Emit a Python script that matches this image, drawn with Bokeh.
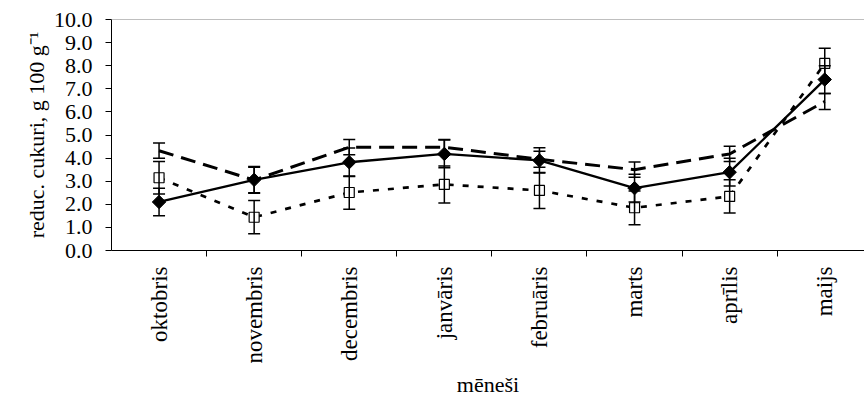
import math
from bokeh.plotting import figure
from bokeh.models import (ColumnDataSource, Whisker, TeeHead, FixedTicker, Span,
                          Range1d, NumeralTickFormatter)
from bokeh.embed import file_html
from bokeh.resources import INLINE

# ---------------- data ----------------
months = ["oktobris", "novembris", "decembris", "janvāris",
          "februāris", "marts", "aprīlis", "maijs"]

solid_vals = [2.10, 3.06, 3.82, 4.18, 3.90, 2.70, 3.39, 7.40]
solid_err = [0.60, 0.58, 0.62, 0.60, 0.55, 0.60, 0.60, 0.60]

dash_vals = [4.32, 3.05, 4.47, 4.47, 3.95, 3.50, 4.18, 6.45]
dash_err = [0.33, 0.55, 0.33, 0.33, 0.35, 0.33, 0.33, 0.35]

dot_vals = [3.15, 1.44, 2.51, 2.86, 2.60, 1.85, 2.34, 8.10]
dot_err = [0.70, 0.72, 0.72, 0.80, 0.78, 0.73, 0.72, 0.66]

y_ticks = [0.0, 1.0, 2.0, 3.0, 4.0, 5.0, 6.0, 7.0, 8.0, 9.0, 10.0]
x_title = "mēneši"
y_title = "reduc. cukuri, g 100 g\u207b\u00b9"

FONT = "Liberation Serif"

# ---------------- figure ----------------
xs = [i + 0.5 for i in range(len(months))]
boundaries = [float(i) for i in range(1, len(months))]

p = figure(width=864, height=400, output_backend="svg", toolbar_location=None,
           x_range=Range1d(0, 7.918), y_range=Range1d(0, 10),
           min_border_left=111, min_border_right=0, min_border_top=19,
           min_border_bottom=150)
p.outline_line_color = None
p.background_fill_color = "white"
p.border_fill_color = "white"
p.xgrid.visible = False
p.ygrid.visible = False

# top gray border line at 10.0
p.add_layout(Span(location=10, dimension="width", line_color="#808080", line_width=1))

# x axis
p.xaxis.ticker = FixedTicker(ticks=xs, minor_ticks=boundaries)
p.xaxis.major_label_overrides = {x: m for x, m in zip(xs, months)}
p.xaxis.major_label_orientation = math.pi / 2
p.xaxis.major_tick_out = 0
p.xaxis.major_tick_in = 0
p.xaxis.minor_tick_out = 6
p.xaxis.minor_tick_in = 0
p.xaxis.minor_tick_line_color = "black"
p.xaxis.axis_line_color = "black"
p.xaxis.major_label_standoff = 10
p.xaxis.major_label_text_font = FONT
p.xaxis.major_label_text_font_size = "23px"
p.xaxis.major_label_text_color = "black"
p.xaxis.axis_label = x_title
p.xaxis.axis_label_text_font = FONT
p.xaxis.axis_label_text_font_size = "22px"
p.xaxis.axis_label_text_font_style = "normal"
p.xaxis.axis_label_text_color = "black"
p.xaxis.axis_label_standoff = 5

# y axis
p.yaxis.ticker = FixedTicker(ticks=y_ticks)
p.yaxis.formatter = NumeralTickFormatter(format="0.0")
p.yaxis.major_tick_out = 6
p.yaxis.major_tick_in = 0
p.yaxis.minor_tick_out = 0
p.yaxis.minor_tick_in = 0
p.yaxis.major_tick_line_color = "black"
p.yaxis.axis_line_color = "black"
p.yaxis.major_label_standoff = 13
p.yaxis.major_label_text_font = FONT
p.yaxis.major_label_text_font_size = "22px"
p.yaxis.major_label_text_color = "black"
p.yaxis.axis_label = y_title
p.yaxis.axis_label_text_font = FONT
p.yaxis.axis_label_text_font_size = "22px"
p.yaxis.axis_label_text_font_style = "normal"
p.yaxis.axis_label_text_color = "black"
p.yaxis.axis_label_standoff = 2

# ---------------- series ----------------
def src(vals, err):
    return ColumnDataSource(dict(
        x=xs, y=vals,
        lo=[v - e for v, e in zip(vals, err)],
        up=[v + e for v, e in zip(vals, err)]))

s_solid = src(solid_vals, solid_err)
s_dash = src(dash_vals, dash_err)
s_dot = src(dot_vals, dot_err)

for s in (s_dash, s_dot, s_solid):
    p.add_layout(Whisker(source=s, base="x", lower="lo", upper="up",
                         dimension="height", line_color="black", line_width=1.5,
                         level="glyph",
                         upper_head=TeeHead(size=12, line_color="black", line_width=1.5),
                         lower_head=TeeHead(size=12, line_color="black", line_width=1.5)))

p.line("x", "y", source=s_dash, line_color="black", line_width=3, line_dash="15 8")
p.line("x", "y", source=s_dot, line_color="black", line_width=2.7, line_dash="6 9")
p.line("x", "y", source=s_solid, line_color="black", line_width=2.3)

p.scatter("x", "y", source=s_dot, marker="square", size=10,
          fill_color="white", line_color="black", line_width=1.2)
p.scatter("x", "y", source=s_solid, marker="square", size=9.5, angle=math.pi / 4,
          fill_color="black", line_color="black", line_width=1)

open("out.html", "w").write(file_html(p, INLINE))
